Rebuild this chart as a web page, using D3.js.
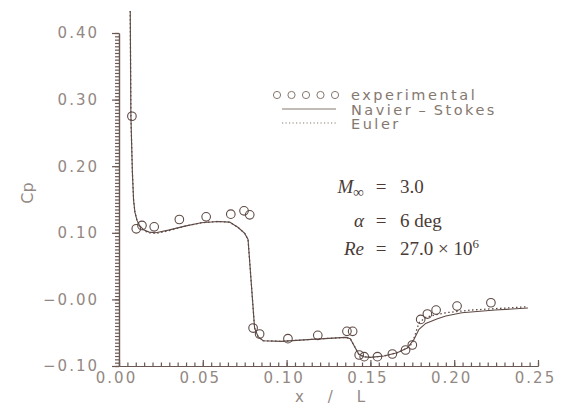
<!DOCTYPE html>
<html>
<head>
<meta charset="utf-8">
<script src="https://cdn.jsdelivr.net/npm/d3@7/dist/d3.min.js"></script>
<style>
  html, body { margin: 0; padding: 0; background: #fff; }
  svg { display: block; }
  .tick text { font-family: "DejaVu Sans", sans-serif; font-size: 15px; letter-spacing: 2px; fill: #938883; }
  .legend text { font-family: "DejaVu Sans", sans-serif; font-size: 14.5px; letter-spacing: 2.5px; fill: #85786f; }
  .math text { font-family: "Liberation Serif", serif; font-size: 19px; fill: #4a3b37; }
</style>
</head>
<body>
<div id="chart"></div>
<script>
'use strict';

// experimental points (x/L, Cp)
var expX = [0.0077, 0.0103, 0.0137, 0.0210, 0.0360, 0.0520, 0.0667, 0.0746, 0.0780,
  0.0800, 0.0839, 0.1008, 0.1186, 0.1360, 0.1394, 0.1433, 0.1463, 0.1542, 0.1631,
  0.1710, 0.1750, 0.1800, 0.1840, 0.1892, 0.2017, 0.2219];
var expCp = [0.275, 0.106, 0.111, 0.109, 0.120, 0.124, 0.128, 0.133, 0.127,
  -0.043, -0.052, -0.059, -0.054, -0.048, -0.048, -0.0835, -0.086, -0.086, -0.082,
  -0.076, -0.0685, -0.030, -0.022, -0.016, -0.010, -0.005];

// Navier-Stokes (solid)
var nsX = [0.0067, 0.0071, 0.0080, 0.0087, 0.0095, 0.0107, 0.0125, 0.0150, 0.0180, 0.0220,
  0.0295, 0.0394, 0.0490, 0.0590, 0.0660, 0.0711, 0.0750, 0.0770, 0.0809, 0.0830,
  0.0860, 0.0968, 0.1150, 0.1354, 0.1380, 0.1430, 0.1460, 0.1500, 0.1580, 0.1660,
  0.1720, 0.1760, 0.1790, 0.1830, 0.1900, 0.1950, 0.2046, 0.2245, 0.2440];
var nsCp = [0.433, 0.275, 0.190, 0.149, 0.131, 0.119, 0.110, 0.104, 0.101, 0.100,
  0.104, 0.110, 0.115, 0.117, 0.116, 0.108, 0.099, 0.090, -0.043, -0.056,
  -0.062, -0.063, -0.060, -0.057, -0.059, -0.082, -0.086, -0.087, -0.085, -0.080,
  -0.073, -0.060, -0.045, -0.036, -0.029, -0.025, -0.020, -0.016, -0.013];

// Euler (dotted)
var euX = [0.0067, 0.0071, 0.0080, 0.0087, 0.0095, 0.0107, 0.0125, 0.0150, 0.0180, 0.0220,
  0.0295, 0.0394, 0.0490, 0.0590, 0.0660, 0.0711, 0.0750, 0.0770, 0.0809, 0.0830,
  0.0860, 0.0968, 0.1150, 0.1354, 0.1380, 0.1430, 0.1460, 0.1500, 0.1580, 0.1660,
  0.1720, 0.1750, 0.1790, 0.1830, 0.1890, 0.1950, 0.2100, 0.2440];
var euCp = [0.433, 0.275, 0.190, 0.149, 0.131, 0.119, 0.110, 0.103, 0.100, 0.099,
  0.103, 0.110, 0.115, 0.117, 0.116, 0.108, 0.099, 0.090, -0.043, -0.056,
  -0.062, -0.063, -0.060, -0.057, -0.059, -0.082, -0.086, -0.087, -0.085, -0.080,
  -0.073, -0.066, -0.035, -0.027, -0.023, -0.020, -0.016, -0.011];

var xTicks = [0, 0.05, 0.10, 0.15, 0.20, 0.25];
var xTickLabels = ['0.00', '0.05', '0.10', '0.15', '0.20', '0.25'];
var yTicks = [0.40, 0.30, 0.20, 0.10, 0.00, -0.10];
var yTickLabels = ['0.40', '0.30', '0.20', '0.10', '\u22120.00', '\u22120.10'];

var legendLabels = ['experimental', 'Navier\u2009\u2013\u2009Stokes', 'Euler'];

var width = 566, height = 406;
var ink = '#5e4a45';

var x = d3.scaleLinear().domain([0, 0.25]).range([119, 538]);
var y = d3.scaleLinear().domain([-0.1, 0.4]).range([366, 33]);

var svg = d3.select('#chart').append('svg')
  .attr('width', width)
  .attr('height', height);

// minor ticks every 0.005
var yMinor = d3.axisLeft(y).tickValues(d3.range(-0.1, 0.4001, 0.005)).tickSize(4).tickFormat('').tickSizeOuter(0);
var xMinor = d3.axisBottom(x).tickValues(d3.range(0, 0.2501, 0.005)).tickSizeInner(-3.5).tickFormat('').tickSizeOuter(0);

svg.append('g').attr('transform', 'translate(' + x(0) + ',0)').call(yMinor);
svg.append('g').attr('transform', 'translate(0,' + y(-0.1) + ')').call(xMinor);

var yAxis = d3.axisLeft(y).tickValues(yTicks).tickSize(7).tickPadding(13).tickSizeOuter(0)
  .tickFormat(function (d, i) { return yTickLabels[i]; });
var xAxis = d3.axisBottom(x).tickValues(xTicks).tickSizeInner(-6).tickPadding(6).tickSizeOuter(0)
  .tickFormat(function (d, i) { return xTickLabels[i]; });

svg.append('g').attr('class', 'y axis').attr('transform', 'translate(' + x(0) + ',0)').call(yAxis);
svg.append('g').attr('class', 'x axis').attr('transform', 'translate(0,' + y(-0.1) + ')').call(xAxis);

svg.selectAll('.x.axis .tick text').attr('dx', -3);

svg.selectAll('.domain, .tick line')
  .attr('stroke', '#6a5853')
  .attr('stroke-width', 1.2);

// axis titles
svg.append('text')
  .attr('transform', 'translate(27,193) rotate(-90)')
  .attr('text-anchor', 'middle')
  .attr('dominant-baseline', 'central')
  .style('font-family', '"DejaVu Sans", sans-serif')
  .style('font-size', '16px')
  .style('fill', '#938883')
  .text('Cp');

svg.append('text')
  .attr('x', 330)
  .attr('y', 402)
  .attr('text-anchor', 'middle')
  .style('font-family', '"DejaVu Sans", sans-serif')
  .style('font-size', '15px')
  .style('fill', '#938883')
  .style('white-space', 'pre')
  .text('x     /     L');

// curves
var line = d3.line()
  .x(function (d) { return x(d[0]); })
  .y(function (d) { return y(d[1]); });

svg.append('path')
  .datum(d3.zip(euX, euCp))
  .attr('fill', 'none')
  .attr('stroke', ink)
  .attr('stroke-width', 1.3)
  .attr('stroke-dasharray', '1.5,2.5')
  .attr('d', line);

svg.append('path')
  .datum(d3.zip(nsX, nsCp))
  .attr('fill', 'none')
  .attr('stroke', ink)
  .attr('stroke-width', 1.1)
  .attr('d', line);

svg.append('g').selectAll('circle')
  .data(d3.zip(expX, expCp))
  .enter().append('circle')
  .attr('cx', function (d) { return x(d[0]); })
  .attr('cy', function (d) { return y(d[1]); })
  .attr('r', 4.3)
  .attr('fill', 'none')
  .attr('stroke', ink)
  .attr('stroke-width', 1.1);

// legend
var legend = svg.append('g').attr('class', 'legend');
legend.selectAll('circle')
  .data(d3.range(5))
  .enter().append('circle')
  .attr('cx', function (d) { return 277 + d * 14.5; })
  .attr('cy', 95)
  .attr('r', 3.6)
  .attr('fill', 'none')
  .attr('stroke', '#85786f')
  .attr('stroke-width', 1);

legend.append('line')
  .attr('x1', 282).attr('x2', 336).attr('y1', 109).attr('y2', 109)
  .attr('stroke', '#85786f').attr('stroke-width', 1);
legend.append('line')
  .attr('x1', 282).attr('x2', 336).attr('y1', 123).attr('y2', 123)
  .attr('stroke', '#85786f').attr('stroke-width', 1)
  .attr('stroke-dasharray', '1.2,2.3');

legend.selectAll('text')
  .data(legendLabels)
  .enter().append('text')
  .attr('x', 351)
  .attr('y', function (d, i) { return 95 + i * 14.5; })
  .attr('dominant-baseline', 'central')
  .text(function (d) { return d; });

// flow conditions
var math = svg.append('g').attr('class', 'math');
var rows = [193, 226.5, 255];

var m = math.append('text').attr('x', 364).attr('y', rows[0]).attr('text-anchor', 'end');
m.append('tspan').style('font-style', 'italic').text('M');
m.append('tspan').attr('dy', 4).style('font-size', '15px').text('\u221e');

math.append('text').attr('x', 364).attr('y', rows[1]).attr('text-anchor', 'end')
  .style('font-style', 'italic').text('\u03b1');
math.append('text').attr('x', 364).attr('y', rows[2]).attr('text-anchor', 'end')
  .style('font-style', 'italic').text('Re');

math.selectAll('.eq')
  .data(rows)
  .enter().append('text')
  .attr('class', 'eq')
  .attr('x', 381)
  .attr('y', function (d) { return d; })
  .attr('text-anchor', 'middle')
  .text('=');

math.append('text').attr('x', 400).attr('y', rows[0]).text('3.0');
math.append('text').attr('x', 400).attr('y', rows[1]).text('6 deg');
var re = math.append('text').attr('x', 400).attr('y', rows[2]);
re.append('tspan').text('27.0 \u00d7 10');
re.append('tspan').attr('dy', -7).style('font-size', '13px').text('6');
</script>
</body>
</html>
